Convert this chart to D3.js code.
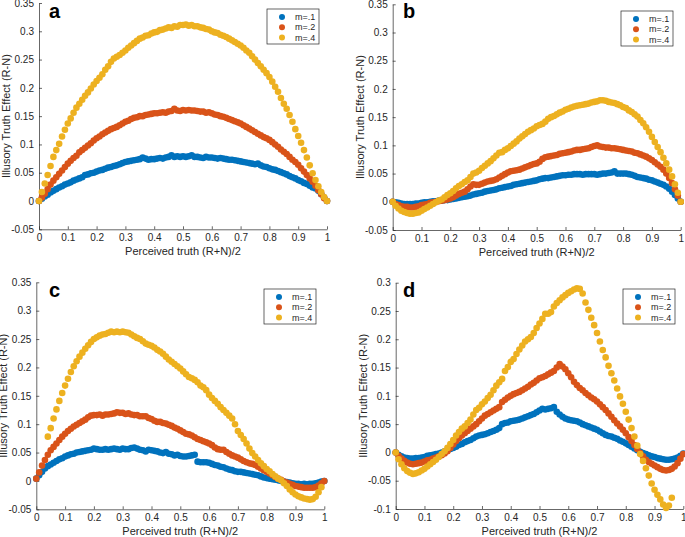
<!DOCTYPE html>
<html>
<head>
<meta charset="utf-8">
<script src="https://cdn.jsdelivr.net/npm/d3@7"></script>
<style>
  body { margin: 0; background: #fff; }
  text { font-family: "Liberation Sans", Arial, sans-serif; fill: #262626; }
</style>
</head>
<body>
<script>
// x positions shared by all series (perceived truth)
var xs = [0,0.01,0.02,0.03,0.04,0.05,0.06,0.07,0.08,0.09,
  0.10,0.11,0.12,0.13,0.14,0.15,0.16,0.17,0.18,0.19,
  0.20,0.21,0.22,0.23,0.24,0.25,0.26,0.27,0.28,0.29,
  0.30,0.31,0.32,0.33,0.34,0.35,0.36,0.37,0.38,0.39,
  0.40,0.41,0.42,0.43,0.44,0.45,0.46,0.47,0.48,0.49,
  0.50,0.51,0.52,0.53,0.54,0.55,0.56,0.57,0.58,0.59,
  0.60,0.61,0.62,0.63,0.64,0.65,0.66,0.67,0.68,0.69,
  0.70,0.71,0.72,0.73,0.74,0.75,0.76,0.77,0.78,0.79,
  0.80,0.81,0.82,0.83,0.84,0.85,0.86,0.87,0.88,0.89,
  0.90,0.91,0.92,0.93,0.94,0.95,0.96,0.97,0.98,0.99,1.00];

var xTicks = [0,0.1,0.2,0.3,0.4,0.5,0.6,0.7,0.8,0.9,1];
var yTicksABC = [-0.05,0,0.05,0.1,0.15,0.2,0.25,0.3,0.35];
var yTicksD = [-0.1,-0.05,0,0.05,0.1,0.15,0.2,0.25,0.3];
var seriesNames = ["m=.1","m=.2","m=.4"];
var colors = ["#0072BD","#D95319","#EDB120"];

// panel a
var aBlue = [0,0.004,0.008,0.011,0.015,0.018,0.021,0.024,0.026,0.029,
  0.031,0.033,0.036,0.038,0.040,0.042,0.046,0.047,0.049,0.050,
  0.052,0.054,0.055,0.057,0.059,0.060,0.062,0.063,0.065,0.067,
  0.069,0.070,0.071,0.072,0.073,0.074,0.077,0.075,0.073,0.074,
  0.074,0.075,0.076,0.075,0.077,0.078,0.081,0.078,0.079,0.078,
  0.079,0.078,0.079,0.081,0.078,0.078,0.077,0.076,0.078,0.077,
  0.077,0.076,0.075,0.076,0.075,0.074,0.073,0.073,0.072,0.071,
  0.070,0.069,0.068,0.067,0.066,0.065,0.066,0.063,0.061,0.060,
  0.058,0.056,0.055,0.053,0.051,0.049,0.047,0.044,0.042,0.040,
  0.037,0.035,0.032,0.030,0.027,0.024,0.022,0.018,0.012,0.006,0];
var aRed = [0,0.006,0.013,0.021,0.029,0.036,0.042,0.048,0.054,0.060,
  0.066,0.071,0.076,0.080,0.086,0.090,0.094,0.098,0.102,0.107,
  0.111,0.114,0.118,0.121,0.124,0.127,0.129,0.131,0.134,0.137,
  0.140,0.142,0.145,0.147,0.148,0.150,0.150,0.152,0.153,0.154,
  0.155,0.155,0.156,0.157,0.156,0.158,0.159,0.163,0.160,0.159,
  0.161,0.160,0.161,0.160,0.160,0.159,0.158,0.158,0.156,0.157,
  0.155,0.153,0.152,0.150,0.149,0.147,0.145,0.143,0.141,0.139,
  0.137,0.134,0.131,0.128,0.125,0.122,0.119,0.116,0.113,0.111,
  0.108,0.104,0.100,0.096,0.091,0.087,0.083,0.078,0.073,0.069,
  0.064,0.058,0.052,0.046,0.040,0.034,0.027,0.019,0.012,0.005,0];
var aYellow = [0,0.016,0.031,0.046,0.062,0.078,0.090,0.101,0.114,0.126,
  0.137,0.146,0.156,0.165,0.172,0.179,0.186,0.192,0.199,0.206,
  0.212,0.218,0.224,0.232,0.238,0.246,0.252,0.255,0.258,0.262,
  0.266,0.271,0.275,0.279,0.283,0.287,0.289,0.292,0.293,0.296,
  0.298,0.299,0.302,0.303,0.305,0.307,0.306,0.309,0.308,0.311,
  0.311,0.312,0.310,0.311,0.309,0.309,0.307,0.306,0.304,0.303,
  0.300,0.298,0.297,0.294,0.292,0.290,0.287,0.284,0.281,0.278,
  0.275,0.271,0.266,0.262,0.256,0.250,0.244,0.238,0.232,0.226,
  0.219,0.211,0.202,0.193,0.182,0.172,0.163,0.152,0.140,0.127,
  0.115,0.103,0.090,0.077,0.063,0.049,0.037,0.026,0.016,0.007,0];

// panel b
var bBlue = [0,-0.001,-0.002,-0.003,-0.004,-0.004,-0.004,-0.004,-0.003,-0.003,
  -0.002,-0.001,-0.001,0,0.001,0.001,0.002,0.002,0.003,0.003,
  0.004,0.005,0.006,0.007,0.008,0.009,0.010,0.011,0.013,0.014,
  0.015,0.016,0.018,0.019,0.020,0.021,0.022,0.024,0.025,0.026,
  0.027,0.028,0.030,0.031,0.032,0.033,0.034,0.035,0.036,0.037,
  0.038,0.040,0.041,0.042,0.042,0.043,0.044,0.045,0.046,0.047,
  0.047,0.048,0.048,0.049,0.049,0.049,0.048,0.049,0.049,0.049,
  0.049,0.048,0.049,0.050,0.050,0.051,0.052,0.054,0.050,0.050,
  0.050,0.050,0.049,0.048,0.046,0.044,0.043,0.042,0.041,0.039,
  0.038,0.036,0.034,0.032,0.030,0.027,0.023,0.018,0.012,0.006,0];
var bRed = [0,-0.004,-0.006,-0.008,-0.009,-0.009,-0.010,-0.010,-0.009,-0.008,
  -0.006,-0.005,-0.004,-0.002,-0.001,0,0.001,0.002,0.003,0.004,
  0.006,0.008,0.011,0.014,0.016,0.018,0.022,0.027,0.031,0.030,
  0.030,0.032,0.034,0.036,0.037,0.038,0.040,0.043,0.046,0.049,
  0.052,0.054,0.055,0.056,0.057,0.059,0.061,0.063,0.065,0.067,
  0.068,0.071,0.076,0.079,0.080,0.081,0.082,0.083,0.085,0.086,
  0.087,0.088,0.089,0.091,0.092,0.092,0.093,0.094,0.095,0.097,
  0.099,0.100,0.098,0.097,0.096,0.096,0.095,0.095,0.094,0.093,
  0.092,0.091,0.090,0.089,0.087,0.086,0.084,0.082,0.080,0.077,
  0.074,0.070,0.066,0.062,0.057,0.050,0.042,0.033,0.022,0.011,0];
var bYellow = [0,-0.007,-0.012,-0.016,-0.018,-0.020,-0.021,-0.021,-0.020,-0.019,
  -0.016,-0.013,-0.010,-0.007,-0.004,-0.001,0.002,0.004,0.008,0.012,
  0.015,0.019,0.024,0.028,0.031,0.035,0.038,0.044,0.050,0.052,
  0.055,0.060,0.064,0.068,0.072,0.077,0.082,0.087,0.088,0.092,
  0.095,0.099,0.103,0.107,0.112,0.116,0.120,0.124,0.127,0.130,
  0.134,0.136,0.138,0.142,0.147,0.150,0.152,0.155,0.158,0.160,
  0.163,0.165,0.167,0.169,0.170,0.171,0.172,0.173,0.174,0.176,
  0.177,0.178,0.180,0.180,0.179,0.177,0.176,0.175,0.173,0.171,
  0.168,0.166,0.162,0.159,0.155,0.151,0.145,0.139,0.132,0.124,
  0.115,0.106,0.097,0.088,0.078,0.068,0.057,0.045,0.031,0.016,0];

// panel c
var cBlue = [0.004,0.010,0.016,0.022,0.026,0.029,0.032,0.035,0.038,0.040,
  0.043,0.045,0.047,0.048,0.050,0.051,0.052,0.053,0.054,0.055,
  0.057,0.056,0.055,0.055,0.056,0.055,0.056,0.057,0.056,0.055,
  0.057,0.056,0.056,0.058,0.059,0.057,0.055,0.054,0.052,0.055,
  0.054,0.053,0.052,0.050,0.049,0.051,0.048,0.047,0.045,0.046,
  0.044,0.043,0.043,0.044,0.045,0.046,0.034,0.033,0.033,0.033,
  0.032,0.030,0.028,0.027,0.025,0.024,0.022,0.020,0.019,0.017,
  0.016,0.016,0.015,0.014,0.013,0.012,0.011,0.010,0.008,0.006,
  0.005,0.004,0.003,0.002,0.001,0,-0.001,-0.002,-0.003,-0.004,
  -0.005,-0.005,-0.006,-0.005,-0.006,-0.005,-0.005,-0.004,-0.003,-0.001,0];
var cRed = [0.004,0.015,0.027,0.037,0.046,0.054,0.060,0.066,0.072,0.078,
  0.083,0.088,0.092,0.096,0.099,0.102,0.105,0.108,0.112,0.115,
  0.116,0.116,0.117,0.115,0.117,0.117,0.118,0.119,0.121,0.120,
  0.120,0.118,0.119,0.117,0.116,0.116,0.114,0.114,0.114,0.111,
  0.109,0.106,0.104,0.104,0.102,0.101,0.099,0.097,0.094,0.092,
  0.089,0.086,0.083,0.082,0.080,0.077,0.074,0.072,0.070,0.068,
  0.066,0.063,0.059,0.056,0.055,0.055,0.051,0.048,0.045,0.043,
  0.041,0.038,0.035,0.033,0.031,0.030,0.028,0.025,0.022,0.019,
  0.016,0.013,0.010,0.007,0.004,0.002,-0.001,-0.003,-0.005,-0.007,
  -0.009,-0.010,-0.011,-0.012,-0.012,-0.012,-0.012,-0.011,-0.008,-0.004,0];
var cYellow = [null,null,null,null,0.078,0.093,0.110,0.126,0.141,0.155,
  0.168,0.180,0.192,0.202,0.211,0.219,0.226,0.233,0.239,0.245,
  0.250,0.253,0.256,0.258,0.259,0.261,0.263,0.262,0.263,0.262,
  0.263,0.262,0.261,0.258,0.255,0.252,0.250,0.246,0.242,0.240,
  0.238,0.235,0.231,0.228,0.224,0.219,0.214,0.210,0.206,0.202,
  0.198,0.193,0.188,0.183,0.181,0.178,0.174,0.168,0.165,0.160,
  0.152,0.146,0.141,0.136,0.130,0.125,0.120,0.115,0.110,0.100,
  0.088,0.081,0.074,0.066,0.057,0.049,0.043,0.037,0.031,0.026,
  0.021,0.017,0.012,0.008,0.004,0.001,-0.004,-0.009,-0.015,-0.020,
  -0.024,-0.027,-0.029,-0.031,-0.032,-0.033,-0.032,-0.028,-0.020,-0.011,null];

// panel d
var dBlue = [0,-0.004,-0.007,-0.009,-0.010,-0.011,-0.011,-0.010,-0.010,-0.009,
  -0.008,-0.006,-0.005,-0.004,-0.003,-0.002,0,0.002,0.004,0.006,
  0.008,0.010,0.013,0.015,0.018,0.020,0.022,0.025,0.028,0.030,
  0.031,0.032,0.034,0.036,0.038,0.040,0.043,0.050,0.052,0.053,
  0.055,0.056,0.057,0.058,0.060,0.062,0.064,0.066,0.068,0.071,
  0.074,0.077,0.076,0.077,0.078,0.080,0.072,0.067,0.063,0.060,
  0.058,0.057,0.056,0.055,0.053,0.050,0.048,0.046,0.044,0.042,
  0.040,0.037,0.034,0.031,0.029,0.028,0.026,0.024,0.021,0.019,
  0.016,0.013,0.010,0.007,0.004,0.001,-0.001,-0.003,-0.005,-0.007,
  -0.008,-0.010,-0.011,-0.012,-0.013,-0.013,-0.012,-0.011,-0.009,-0.006,-0.002];
var dRed = [0,-0.006,-0.011,-0.015,-0.018,-0.020,-0.021,-0.020,-0.019,-0.018,
  -0.016,-0.014,-0.013,-0.011,-0.009,-0.007,-0.005,-0.002,0.002,0.008,
  0.014,0.020,0.025,0.030,0.034,0.038,0.042,0.046,0.050,0.055,
  0.060,0.065,0.068,0.071,0.074,0.077,0.080,0.089,0.093,0.097,
  0.100,0.103,0.105,0.107,0.110,0.113,0.116,0.120,0.123,0.127,
  0.131,0.133,0.135,0.138,0.141,0.144,0.150,0.156,0.152,0.147,
  0.140,0.133,0.125,0.119,0.114,0.110,0.105,0.101,0.097,0.094,
  0.090,0.085,0.080,0.075,0.069,0.063,0.057,0.051,0.046,0.040,
  0.034,0.027,0.020,0.013,0.006,-0.001,-0.007,-0.013,-0.017,-0.020,
  -0.023,-0.026,-0.029,-0.031,-0.032,-0.031,-0.029,-0.025,-0.019,-0.011,-0.003];
var dYellow = [0,-0.012,-0.021,-0.028,-0.033,-0.036,-0.038,-0.037,-0.035,-0.032,
  -0.029,-0.025,-0.021,-0.017,-0.013,-0.008,-0.003,0.002,0.008,0.015,
  0.022,0.030,0.036,0.042,0.046,0.052,0.058,0.067,0.075,0.079,
  0.085,0.090,0.096,0.102,0.110,0.118,0.124,0.130,0.144,0.151,
  0.160,0.165,0.174,0.182,0.189,0.196,0.200,0.204,0.211,0.220,
  0.228,0.236,0.245,0.245,0.248,0.258,0.264,0.269,0.274,0.278,
  0.282,0.285,0.288,0.290,0.289,0.281,0.265,0.252,0.238,0.225,
  0.211,0.196,0.181,0.168,0.153,0.140,0.127,0.113,0.099,0.086,
  0.072,0.058,0.043,0.028,0.012,-0.003,-0.015,-0.028,-0.041,-0.055,
  -0.066,-0.075,-0.083,-0.092,-0.098,-0.094,-0.080,null,null,null,null];

var panels = [
  {label: "a", series: [aBlue, aRed, aYellow], yDomain: [-0.05, 0.35], yTicks: yTicksABC,
   left: 39, right: 327, top: 3, bottom: 229.3, lx: 49, ly: 18, legX: 267, legY: 9},
  {label: "b", series: [bBlue, bRed, bYellow], yDomain: [-0.05, 0.35], yTicks: yTicksABC,
   left: 392.7, right: 680.7, top: 4.3, bottom: 230, lx: 403, ly: 18, legX: 621, legY: 11},
  {label: "c", series: [cBlue, cRed, cYellow], yDomain: [-0.05, 0.35], yTicks: yTicksABC,
   left: 36.3, right: 324.3, top: 282.3, bottom: 509.3, lx: 49, ly: 297, legX: 264, legY: 289},
  {label: "d", series: [dBlue, dRed, dYellow], yDomain: [-0.1, 0.3], yTicks: yTicksD,
   left: 395.7, right: 683.3, top: 282.7, bottom: 509, lx: 403, ly: 297, legX: 623, legY: 289}
];

var fmt = function(d) { return d === 0 ? "0" : String(+d.toFixed(2)); };

var svg = d3.select("body").append("svg")
  .attr("width", 685)
  .attr("height", 537);

panels.forEach(function(p) {
  var x = d3.scaleLinear().domain([0, 1]).range([p.left, p.right]);
  var y = d3.scaleLinear().domain(p.yDomain).range([p.bottom, p.top]);
  var g = svg.append("g");

  var xAxis = g.append("g")
    .attr("transform", "translate(0," + p.bottom + ")")
    .call(d3.axisBottom(x).tickValues(xTicks).tickFormat(fmt)
      .tickSizeInner(-3).tickSizeOuter(0).tickPadding(5));
  var yAxis = g.append("g")
    .attr("transform", "translate(" + p.left + ",0)")
    .call(d3.axisLeft(y).tickValues(p.yTicks).tickFormat(fmt)
      .tickSizeInner(-3).tickSizeOuter(0).tickPadding(5));
  [xAxis, yAxis].forEach(function(ax) {
    ax.selectAll("path, line").attr("stroke", "#262626").attr("stroke-width", 0.7);
    ax.selectAll("text").attr("font-size", 10).attr("font-family", null).style("fill", "#262626");
  });

  // x label
  g.append("text")
    .attr("x", (p.left + p.right) / 2)
    .attr("y", p.bottom + 26)
    .attr("text-anchor", "middle")
    .attr("font-size", 11)
    .text("Perceived truth (R+N)/2");
  // y label
  g.append("text")
    .attr("transform", "translate(" + (p.left - 29) + "," + ((p.top + p.bottom) / 2) + ") rotate(-90)")
    .attr("text-anchor", "middle")
    .attr("font-size", 11)
    .text("Illusory Truth Effect (R-N)");

  // points, blue first so yellow ends up on top
  p.series.forEach(function(vals, si) {
    var pts = xs.map(function(xv, i) { return {x: xv, y: vals[i]}; })
      .filter(function(d) { return d.y != null; });
    g.append("g").selectAll("circle")
      .data(pts)
      .enter()
      .append("circle")
      .attr("cx", function(d) { return x(d.x); })
      .attr("cy", function(d) { return y(d.y); })
      .attr("r", 3.3)
      .style("fill", colors[si]);
  });

  // panel letter
  g.append("text")
    .attr("x", p.lx)
    .attr("y", p.ly)
    .attr("font-size", 20)
    .attr("font-weight", "bold")
    .style("fill", "#000")
    .text(p.label);

  // legend
  var leg = g.append("g").attr("transform", "translate(" + p.legX + "," + p.legY + ")");
  leg.append("rect")
    .attr("width", 52).attr("height", 35)
    .attr("fill", "#fff")
    .attr("stroke", "#262626")
    .attr("stroke-width", 0.7);
  seriesNames.forEach(function(name, i) {
    leg.append("circle")
      .attr("cx", 15).attr("cy", 8 + i * 10.3)
      .attr("r", 3)
      .style("fill", colors[i]);
    leg.append("text")
      .attr("x", 28).attr("y", 11 + i * 10.3)
      .attr("font-size", 9)
      .text(name);
  });
});
</script>
</body>
</html>
